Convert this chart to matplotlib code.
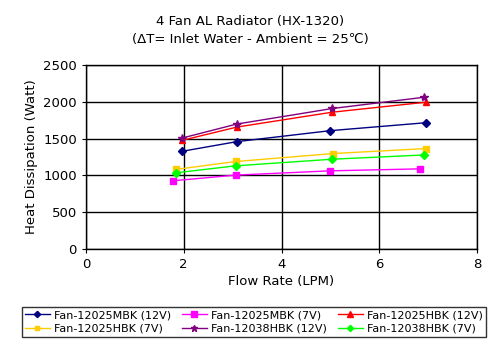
import matplotlib
matplotlib.use("Agg")
import matplotlib.pyplot as plt

plt.rcParams['font.family'] = ['DejaVu Sans']

series_names = ["Fan-12025MBK (12V)", "Fan-12025MBK (7V)", "Fan-12025HBK (12V)",
                "Fan-12025HBK (7V)", "Fan-12038HBK (12V)", "Fan-12038HBK (7V)"]
x_mbk12 = [1.97, 3.09, 5.0, 6.96]
y_mbk12 = [1328, 1459, 1608, 1716]
x_mbk7 = [1.78, 3.06, 5.0, 6.84]
y_mbk7 = [927, 1004, 1062, 1089]
x_hbk12 = [1.97, 3.09, 5.04, 6.96]
y_hbk12 = [1477, 1657, 1859, 1995]
x_hbk7 = [1.84, 3.07, 5.06, 6.96]
y_hbk7 = [1081, 1189, 1297, 1365]
x_38hbk12 = [1.97, 3.08, 5.04, 6.92]
y_38hbk12 = [1508, 1697, 1909, 2062]
x_38hbk7 = [1.84, 3.06, 5.04, 6.92]
y_38hbk7 = [1035, 1130, 1220, 1278]

colors = ["#000080", "#FF00FF", "#FF0000", "#FFCC00", "#800080", "#00FF00"]
markers = ["D", "s", "^", "s", "*", "D"]
msizes = [4, 5, 5, 4, 6, 4]

xs = [x_mbk12, x_mbk7, x_hbk12, x_hbk7, x_38hbk12, x_38hbk7]
ys = [y_mbk12, y_mbk7, y_hbk12, y_hbk7, y_38hbk12, y_38hbk7]

fig = plt.figure(figsize=(4.95, 3.47), dpi=100)
ax = fig.add_axes([86/495, 1-249/347, (477-86)/495, (249-65)/347])

handles = []
for x, y, c, m, s, n in zip(xs, ys, colors, markers, msizes, series_names):
    h, = ax.plot(x, y, color=c, marker=m, markersize=s, linewidth=1, label=n,
                 markeredgecolor=c, markerfacecolor=c)
    handles.append(h)

ax.set_xlim(0, 8)
ax.set_ylim(0, 2500)
ax.set_xticks([0, 2, 4, 6, 8])
ax.set_yticks([0, 500, 1000, 1500, 2000, 2500])
ax.grid(True, color="black", linewidth=1)
ax.set_axisbelow(True)
for sp in ax.spines.values():
    sp.set_color("black")
    sp.set_linewidth(1)
ax.tick_params(direction="out", length=3, labelsize=9.5, colors="black")
ax.set_xlabel("Flow Rate (LPM)", fontsize=9.5, labelpad=3)
ax.set_ylabel("Heat Dissipation (Watt)", fontsize=9.5, labelpad=4)

fig.text(0.505, 1-22/347, "4 Fan AL Radiator (HX-1320)", ha="center", va="center", fontsize=9.5)
fig.text(0.505, 1-40/347, "(ΔT= Inlet Water - Ambient = 25℃)", ha="center", va="center", fontsize=9.5)

order = [0, 3, 1, 4, 2, 5]
leg = fig.legend([handles[i] for i in order], [series_names[i] for i in order],
                 loc="center", bbox_to_anchor=(254/495, 1-322/347), ncol=3, fontsize=8,
                 frameon=True, fancybox=False, edgecolor="black", handlelength=2.2,
                 columnspacing=1.0, handletextpad=0.4, borderpad=0.3, labelspacing=0.3,
                 markerscale=0.8)
leg.get_frame().set_linewidth(1)

fig.savefig("out.png", dpi=100)
